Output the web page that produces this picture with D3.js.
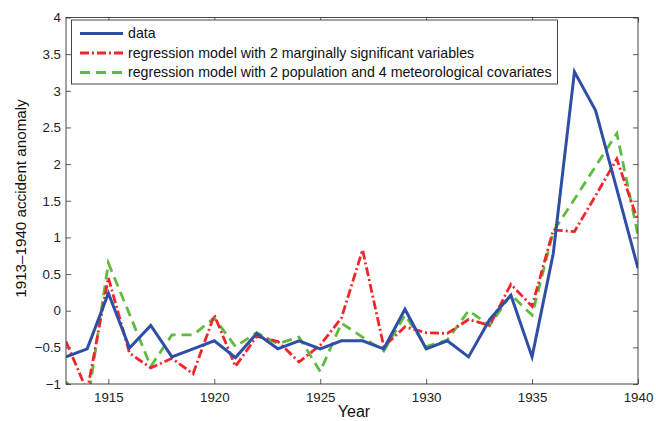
<!DOCTYPE html>
<html>
<head>
<meta charset="utf-8">
<script src="https://cdn.jsdelivr.net/npm/d3@7"></script>
<style>
  html, body { margin: 0; padding: 0; background: #fff; }
  svg { display: block; font-family: "Liberation Sans", Arial, Helvetica, sans-serif; }
</style>
</head>
<body>
<svg id="chart" width="656" height="421"></svg>
<script>
// Accident anomaly 1913–1940: observed series and two regression fits
const years = d3.range(1913, 1941);
const observed = [-0.63, -0.52, 0.24, -0.51, -0.20, -0.63, -0.52, -0.41, -0.64, -0.31,
                  -0.52, -0.41, -0.52, -0.41, -0.41, -0.52, 0.02, -0.52, -0.41, -0.63,
                  -0.12, 0.21, -0.63, 0.78, 3.26, 2.73, 1.66, 0.58];
const modelMarginal = [-0.42, -1.10, 0.45, -0.58, -0.78, -0.65, -0.86, -0.06, -0.76, -0.35,
                       -0.42, -0.70, -0.47, -0.10, 0.83, -0.49, -0.22, -0.30, -0.31, -0.12,
                       -0.20, 0.36, 0.06, 1.10, 1.08, 1.57, 2.07, 1.22];
const modelCovariates = [-0.97, -1.30, 0.65, -0.05, -0.76, -0.33, -0.33, -0.10, -0.49, -0.30,
                         -0.45, -0.36, -0.83, -0.17, -0.36, -0.55, -0.06, -0.49, -0.40, 0.00,
                         -0.20, 0.22, -0.06, 1.08, 1.52, 1.97, 2.42, 1.03];
const xTicks = [1915, 1920, 1925, 1930, 1935, 1940];
const yTicks = [-1, -0.5, 0, 0.5, 1, 1.5, 2, 2.5, 3, 3.5, 4];
const seriesNames = [
  "data",
  "regression model with 2 marginally significant variables",
  "regression model with 2 population and 4 meteorological covariates"
];

const series = [
  { name: seriesNames[0], values: observed, color: "#2f4fa6", dash: null },
  { name: seriesNames[1], values: modelMarginal, color: "#f2262a", dash: "9,3,2,3" },
  { name: seriesNames[2], values: modelCovariates, color: "#5fbb3d", dash: "10,6" }
];

const svg = d3.select("#chart");
const plotLeft = 66, plotRight = 638, plotTop = 17.5, plotBottom = 384;

const x = d3.scaleLinear().domain([1913, 1940]).range([plotLeft, plotRight]);
const y = d3.scaleLinear().domain([-1, 4]).range([plotBottom, plotTop]);

const fmt = v => String(v).replace("-", "\u2212");
const tickLen = 5;

// plot box
svg.append("rect")
  .attr("x", plotLeft).attr("y", plotTop)
  .attr("width", plotRight - plotLeft).attr("height", plotBottom - plotTop)
  .attr("fill", "#fff");

svg.append("defs").append("clipPath").attr("id", "plotClip")
  .append("rect")
  .attr("x", plotLeft).attr("y", plotTop)
  .attr("width", plotRight - plotLeft).attr("height", plotBottom - plotTop);

// axes with inward ticks on all four sides
const axisStyle = g => {
  g.select(".domain").remove();
  g.selectAll("line").attr("stroke", "#333").attr("stroke-width", 0.8);
  g.selectAll("text").attr("fill", "#222").style("font-size", "13.3px");
};

svg.append("g")
  .attr("transform", `translate(0,${plotBottom})`)
  .call(d3.axisBottom(x).tickValues(xTicks).tickFormat(d3.format("d"))
        .tickSizeInner(-tickLen).tickSizeOuter(0).tickPadding(8.5))
  .call(axisStyle);

svg.append("g")
  .attr("transform", `translate(0,${plotTop})`)
  .call(d3.axisTop(x).tickValues(xTicks).tickFormat("")
        .tickSizeInner(-tickLen).tickSizeOuter(0))
  .call(axisStyle);

svg.append("g")
  .attr("transform", `translate(${plotLeft},0)`)
  .call(d3.axisLeft(y).tickValues(yTicks).tickFormat(fmt)
        .tickSizeInner(-tickLen).tickSizeOuter(0).tickPadding(5))
  .call(axisStyle);

svg.append("g")
  .attr("transform", `translate(${plotRight},0)`)
  .call(d3.axisRight(y).tickValues(yTicks).tickFormat("")
        .tickSizeInner(-tickLen).tickSizeOuter(0))
  .call(axisStyle);

// series lines
const line = vals => d3.line()
  .x((d, i) => x(years[i]))
  .y(d => y(d))(vals);

const plot = svg.append("g").attr("clip-path", "url(#plotClip)");
plot.selectAll("path.series")
  .data(series.slice().reverse())
  .join("path")
  .attr("class", "series")
  .attr("d", d => line(d.values))
  .attr("fill", "none")
  .attr("stroke", d => d.color)
  .attr("stroke-width", d => d.dash ? 2.8 : 3)
  .attr("stroke-dasharray", d => d.dash)
  .attr("stroke-linejoin", "miter");

// box outline
svg.append("rect")
  .attr("x", plotLeft).attr("y", plotTop)
  .attr("width", plotRight - plotLeft).attr("height", plotBottom - plotTop)
  .attr("fill", "none").attr("stroke", "#333").attr("stroke-width", 0.9);

// legend
const lg = svg.append("g");
lg.append("rect")
  .attr("x", 71.5).attr("y", 20)
  .attr("width", 486).attr("height", 64)
  .attr("fill", "#fff").attr("stroke", "#333").attr("stroke-width", 0.9);

series.forEach((s, i) => {
  const ly = 33.5 + i * 19.5;
  lg.append("line")
    .attr("x1", 80).attr("x2", 123).attr("y1", ly).attr("y2", ly)
    .attr("stroke", s.color).attr("stroke-width", s.dash ? 2.8 : 3)
    .attr("stroke-dasharray", s.dash);
  lg.append("text")
    .attr("x", 128).attr("y", ly).attr("dy", "0.35em")
    .attr("fill", "#111").style("font-size", "14.2px")
    .text(s.name);
});

// axis titles
svg.append("text")
  .attr("x", 354).attr("y", 417)
  .attr("text-anchor", "middle").attr("fill", "#111")
  .style("font-size", "16px")
  .text("Year");

svg.append("text")
  .attr("transform", "translate(26,198.5) rotate(-90)")
  .attr("text-anchor", "middle").attr("fill", "#111")
  .style("font-size", "15.2px")
  .text("1913\u20131940 accident anomaly");
</script>
</body>
</html>
